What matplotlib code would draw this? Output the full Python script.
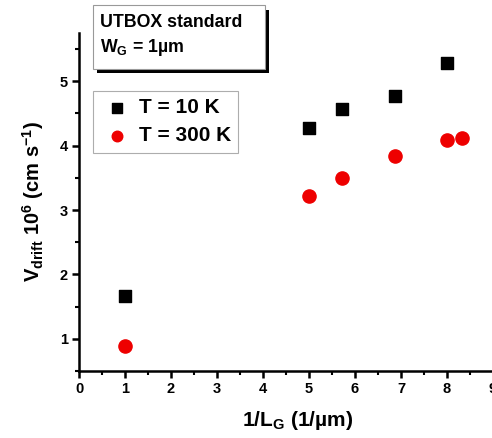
import matplotlib
matplotlib.use("Agg")
import matplotlib.pyplot as plt
from matplotlib.patches import Rectangle
from matplotlib.ticker import MultipleLocator

plt.rcParams['font.family'] = ['Liberation Sans', 'DejaVu Sans']
plt.rcParams['font.weight'] = 'bold'
plt.rcParams['mathtext.fontset'] = 'custom'
plt.rcParams['mathtext.rm'] = 'Liberation Sans:bold'
plt.rcParams['mathtext.bf'] = 'Liberation Sans:bold'
plt.rcParams['mathtext.default'] = 'bf'

# 1/LG (1/um) and drift velocity (1e6 cm/s)
x_10k = [1, 5, 5.71, 6.88, 7.99]
v_10k = [1.67, 4.28, 4.57, 4.77, 5.29]
x_300k = [1, 5, 5.71, 6.88, 7.99, 8.33]
v_300k = [0.89, 3.22, 3.50, 3.84, 4.09, 4.12]

W, H = 492, 438
fig = plt.figure(figsize=(W / 100, H / 100), dpi=100)
# axis runs past the right edge, as in the original figure
ax = fig.add_axes([79/W, 67/H, 9.5*46/W, 338/H])

ax.scatter(x_10k, v_10k, marker='s', s=80, color='black', label='T = 10 K', zorder=3)
ax.scatter(x_300k, v_300k, marker='o', s=90, color='#ee0000', label='T = 300 K', zorder=3)

ax.set_xlim(0, 9.5)
ax.set_ylim(0.5, 5.75)
ax.xaxis.set_major_locator(MultipleLocator(1))
ax.xaxis.set_minor_locator(MultipleLocator(0.5))
ax.yaxis.set_minor_locator(MultipleLocator(0.5))
ax.set_yticks([1, 2, 3, 4, 5])

for s in ['top', 'right']:
    ax.spines[s].set_visible(False)
for s in ['left', 'bottom']:
    ax.spines[s].set_linewidth(1.8)
ax.tick_params(which='major', direction='out', length=5, width=1.8, labelsize=10.5, pad=3)
ax.tick_params(which='minor', direction='out', length=3, width=1.5)
for lab in ax.get_xticklabels() + ax.get_yticklabels():
    lab.set_fontweight('bold')

ax.set_xlabel(r'1/L$_{\mathregular{G}}$ (1/µm)', fontsize=15, fontweight='bold', labelpad=9)
ax.set_ylabel(r'V$_{\mathregular{drift}}$ 10$^{\mathregular{6}}$ (cm s$^{\mathregular{-1}}$)',
              fontsize=14.5, fontweight='bold', labelpad=10)

leg = ax.legend(loc='upper left', bbox_to_anchor=((93-79)/437, (371-91)/338), frameon=True,
                fancybox=False, edgecolor='#999999', fontsize=15, handletextpad=0.2,
                borderpad=0.35, labelspacing=0.44, scatterpoints=1, handlelength=1.65,
                borderaxespad=0, markerscale=0.8)
leg.get_frame().set_linewidth(0.8)
for t in leg.get_texts():
    t.set_fontweight('bold')

# annotation box with shadow
fig.add_artist(Rectangle((97/W, 1 - 73/H), 172/W, 63/H, transform=fig.transFigure,
                         facecolor='black', edgecolor='none', zorder=1))
fig.add_artist(Rectangle((93/W, 1 - 69/H), 172/W, 64/H, transform=fig.transFigure,
                         facecolor='white', edgecolor='#999999', linewidth=0.8, zorder=2))
fig.text(100/W, 1 - 14/H, 'UTBOX standard\n' + r'W$_{\mathregular{G}}$ = 1µm',
         fontsize=12.8, fontweight='bold', va='top', ha='left', linespacing=1.4, zorder=3)

fig.savefig('out.png', dpi=100)
